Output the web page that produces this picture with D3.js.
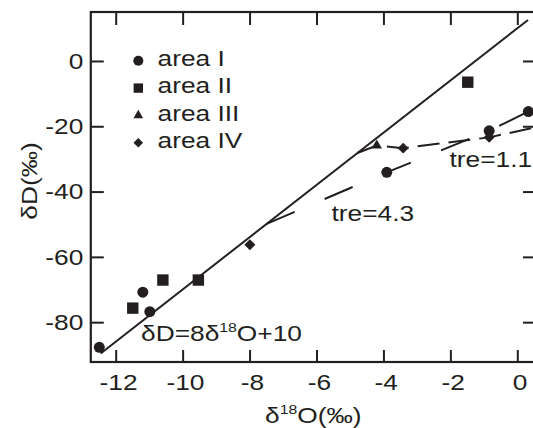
<!DOCTYPE html>
<html>
<head>
<meta charset="utf-8">
<script src="https://cdn.jsdelivr.net/npm/d3@7"></script>
<style>
  html, body { margin: 0; padding: 0; background: #fff; overflow: hidden; }
  svg { display: block; font-family: "Liberation Sans", Arial, Helvetica, sans-serif; }
</style>
</head>
<body>
<svg id="chart" width="533" height="428"></svg>
<script>
// ---- data ----
const xTicks = [-12, -10, -8, -6, -4, -2, 0];
const yTicks = [0, -20, -40, -60, -80];

const areaI_d18O = [-12.49, -11.19, -10.98, -3.90, -0.84, 0.33];
const areaI_dD   = [-87.7, -70.8, -76.8, -34.1, -21.4, -15.5];

const areaII_d18O = [-11.49, -10.59, -9.53, -1.48];
const areaII_dD   = [-75.7, -67.1, -67.1, -6.5];

const areaIII_d18O = [-4.20];
const areaIII_dD   = [-25.9];

const areaIV_d18O = [-7.99, -3.41, -0.84];
const areaIV_dD   = [-56.3, -26.7, -23.4];

// evaporation trends leaving the meteoric water line
const tre43_d18O = [-7.49, -3.90, -0.84, 0.33];
const tre43_dD   = [-49.9, -34.1, -21.4, -15.5];
const tre11_d18O = [-4.78, -4.20, -3.41, -0.84, 0.56];
const tre11_dD   = [-28.2, -25.9, -26.7, -23.4, -20.3];

// meteoric water line δD = 8δ18O + 10
const mwlSlope = 8, mwlIntercept = 10;
const mwlRange = [-12.45, 0.32];

const legendLabels = ["area I", "area II", "area III", "area IV"];

// ---- layout ----
const FONT = 22.5, SX = 1.17;
const plotL = 90.8, plotR = 536, plotT = 12, plotB = 362;
const INK = "#231f20";

const svg = d3.select("#chart");
const x = d3.scaleLinear().domain([-12.744, 0.559]).range([plotL, plotR]);
const y = d3.scaleLinear().domain([-92.2, 15]).range([plotB, plotT]);

function stretch(sel) {
  sel.each(function () {
    const t = d3.select(this);
    const tx = +t.attr("x") || 0, ty = +t.attr("y") || 0;
    t.attr("x", null).attr("y", null)
     .attr("transform", `translate(${tx},${ty}) scale(${SX},1)`);
  });
}

function label(px, py, anchor) {
  return svg.append("text")
    .attr("transform", `translate(${px},${py}) scale(${SX},1)`)
    .attr("text-anchor", anchor)
    .attr("font-size", FONT)
    .attr("fill", INK);
}

// ---- axes ----
const axisStyle = g => {
  g.select(".domain").remove();
  g.selectAll("line").attr("stroke", INK).attr("stroke-width", 2);
  g.selectAll("text").attr("font-size", FONT).attr("fill", INK)
    .attr("font-family", "Liberation Sans, Arial, sans-serif");
};

svg.append("g").attr("transform", `translate(0,${plotB})`)
  .call(d3.axisBottom(x).tickValues(xTicks).tickSizeInner(-12).tickSizeOuter(0)
        .tickPadding(12).tickFormat(d => String(d)))
  .call(axisStyle)
  .call(g => stretch(g.selectAll("text").attr("dx", 2)));

svg.append("g").attr("transform", `translate(${plotL},0)`)
  .call(d3.axisLeft(y).tickValues(yTicks).tickSizeInner(-13).tickSizeOuter(0)
        .tickPadding(7.5).tickFormat(d => String(d)))
  .call(axisStyle)
  .call(g => stretch(g.selectAll("text")));

svg.append("g").attr("transform", `translate(0,${plotT})`)
  .call(d3.axisTop(x).tickValues(xTicks).tickSizeInner(-13).tickSizeOuter(0).tickFormat(""))
  .call(axisStyle);

svg.append("g").attr("transform", `translate(${plotR},0)`)
  .call(d3.axisRight(y).tickValues(yTicks).tickSizeInner(-13).tickSizeOuter(0).tickFormat(""))
  .call(axisStyle);

svg.append("rect")
  .attr("x", plotL).attr("y", plotT)
  .attr("width", plotR - plotL).attr("height", plotB - plotT)
  .attr("fill", "none").attr("stroke", INK).attr("stroke-width", 2.2);

// ---- meteoric water line ----
svg.append("line")
  .attr("x1", x(mwlRange[0])).attr("y1", y(mwlSlope * mwlRange[0] + mwlIntercept))
  .attr("x2", x(mwlRange[1])).attr("y2", y(mwlSlope * mwlRange[1] + mwlIntercept))
  .attr("stroke", INK).attr("stroke-width", 2);

// ---- dashed trend lines ----
const trend = (xs, ys, dash) => {
  const pts = xs.map((v, i) => [x(v), y(ys[i])]);
  svg.append("path")
    .attr("d", d3.line()(pts))
    .attr("fill", "none").attr("stroke", INK).attr("stroke-width", 2)
    .attr("stroke-dasharray", dash);
};
trend(tre43_d18O, tre43_dD, "30.5,32.6");
trend(tre11_d18O, tre11_dD, "22,9");

// ---- markers ----
const shapes = [
  { type: d3.symbolCircle,   size: 95,  legend: 80, rot: 0 },
  { type: d3.symbolSquare,   size: 130, legend: 88, rot: 0 },
  { type: d3.symbolTriangle, size: 48,  legend: 40, rot: 0 },
  { type: d3.symbolSquare,   size: 60,  legend: 46, rot: 45 }
];
const series = [
  [areaI_d18O, areaI_dD],
  [areaII_d18O, areaII_dD],
  [areaIII_d18O, areaIII_dD],
  [areaIV_d18O, areaIV_dD]
];

// diamonds first so overlapping circles sit on top
[3, 2, 1, 0].forEach(k => {
  const s = shapes[k];
  const [xs, ys] = series[k];
  svg.append("g").selectAll("path").data(xs.map((v, i) => [v, ys[i]])).join("path")
    .attr("d", d3.symbol().type(s.type).size(s.size)())
    .attr("transform", d => `translate(${x(d[0])},${y(d[1])}) rotate(${s.rot})`)
    .attr("fill", INK);
});

// ---- legend ----
const legend = svg.append("g");
legendLabels.forEach((name, i) => {
  const by = 66 + i * 27.3;
  const s = shapes[i];
  legend.append("path")
    .attr("d", d3.symbol().type(s.type).size(s.legend)())
    .attr("transform", `translate(138.3,${by - 5.2}) rotate(${s.rot})`)
    .attr("fill", INK);
  label(157.5, by, "start").text(name);
});

// ---- annotations ----
label(331.5, 220.7, "start").text("tre=4.3");
label(449.5, 166.7, "start").text("tre=1.1");

const eq = label(141, 341, "start");
eq.append("tspan").text("δD=8δ");
eq.append("tspan").attr("font-size", 13.5).attr("dy", -9.3).text("18");
eq.append("tspan").attr("dy", 9.3).text("O+10");

// ---- axis titles ----
const xt = label(313.3, 423, "middle");
xt.append("tspan").text("δ");
xt.append("tspan").attr("font-size", 13.5).attr("dy", -9.3).text("18");
xt.append("tspan").attr("dy", 9.3).text("O(‰)");

svg.append("text")
  .attr("transform", `translate(37,181) rotate(-90) scale(${SX},1)`)
  .attr("text-anchor", "middle")
  .attr("font-size", FONT)
  .attr("fill", INK)
  .text("δD(‰)");
</script>
</body>
</html>
